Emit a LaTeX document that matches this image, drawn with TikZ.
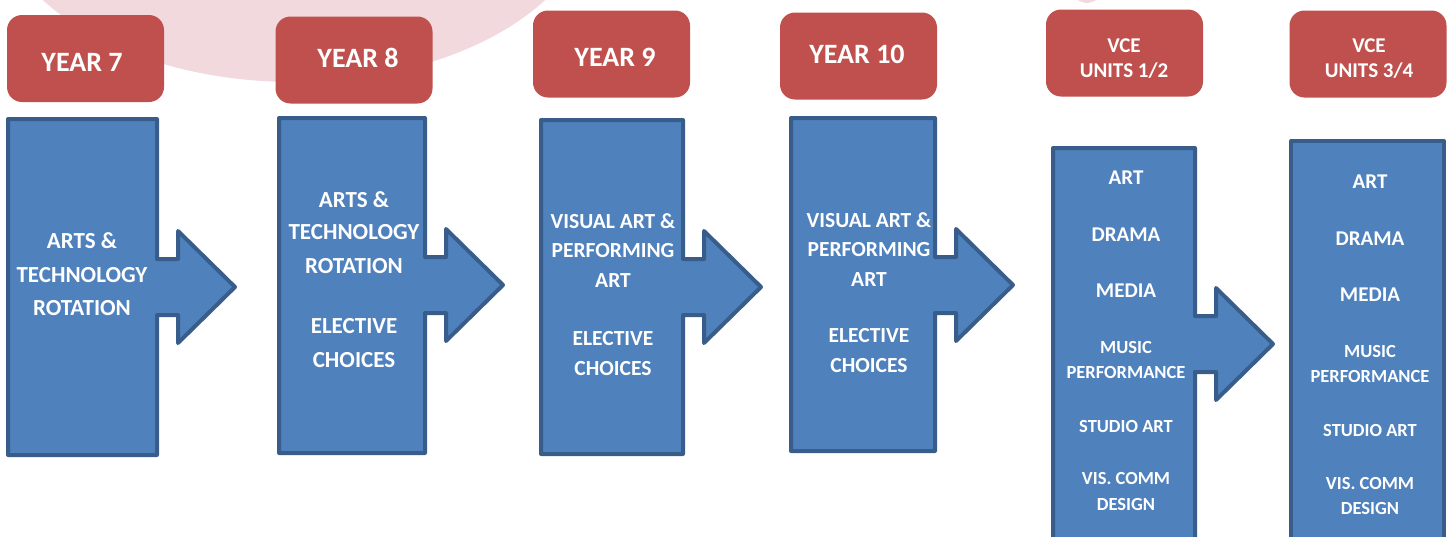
\documentclass[tikz,border=0pt]{standalone}
\usepackage{fontspec}
\setmainfont{Carlito}

\definecolor{yearred}{HTML}{C0504D}
\definecolor{stageblue}{HTML}{4F81BD}
\definecolor{stageedge}{HTML}{385D8A}
\definecolor{blush}{HTML}{F2D9DD}

% block with an arrow on its right side: left, top, right, bottom, arrow middle
\newcommand{\stagearrow}[5]{%
  \draw[stagebox] (#1,#2) -- (#3,#2) -- (#3,#5-28) -- (#3+21,#5-28) -- (#3+21,#5-56)
    -- (#3+78,#5) -- (#3+21,#5+56) -- (#3+21,#5+28) -- (#3,#5+28) -- (#3,#4) -- (#1,#4) -- cycle;}

\begin{document}
\begin{tikzpicture}[x=1pt,y=-1pt,
  yearbox/.style={fill=yearred,rounded corners=15pt,minimum width=157pt,minimum height=87pt,inner sep=0pt},
  headtext/.style={text=white,inner sep=0pt,font=\bfseries\fontsize{28}{34}\selectfont},
  vcetext/.style={headtext,align=center,font=\bfseries\fontsize{21}{25}\selectfont},
  stagebox/.style={fill=stageblue,draw=stageedge,line width=4pt,line join=round},
  subject/.style={text=white,anchor=base,inner sep=0pt,font=\bfseries\fontsize{23}{28}\selectfont},
  subjectmid/.style={subject,font=\bfseries\fontsize{21.5}{26}\selectfont},
  subjectvce/.style={subject,font=\bfseries\fontsize{21}{25}\selectfont},
  subjectsmall/.style={subject,font=\bfseries\fontsize{18.5}{22}\selectfont}]
  \useasboundingbox (0,0) rectangle (1453,536);
  \clip (0,0) rectangle (1453,536);

  % background
  \fill[blush] (294,-99) ellipse [x radius=300pt,y radius=181pt];
  \fill[blush] (1087,-60) ellipse [x radius=30pt,y radius=63pt];

  % headers
  \node[yearbox] (y7)  at (85.5,58.5) {};
  \node[yearbox] (y8)  at (354,60)    {};
  \node[yearbox] (y9)  at (611.5,54)  {};
  \node[yearbox] (y10) at (858.5,56)  {};
  \node[yearbox] (v12) at (1124.5,53) {};
  \node[yearbox] (v34) at (1368,54)   {};
  \node[headtext] (h7)  at (82,62.5)  {YEAR 7};
  \node[headtext] (h8)  at (358,57.5) {YEAR 8};
  \node[headtext] (h9)  at (615,57)   {YEAR 9};
  \node[headtext] (h10) at (857,54)   {YEAR 10};
  \node[vcetext]  (h12) at (1124,58.5) {VCE\\UNITS 1/2};
  \node[vcetext]  (h34) at (1369,59)   {VCE\\UNITS 3/4};

  % stages
  \stagearrow{8}{119}{157}{455}{287}
  \stagearrow{279}{118}{425}{453}{285}
  \stagearrow{541}{120}{683}{454}{287}
  \stagearrow{791}{118}{935}{451}{285}
  \stagearrow{1053}{148}{1195}{600}{344}
  \draw[stagebox] (1291,141) rectangle (1444,600);

  % stage texts
  \foreach \txt/\yy [count=\i] in {ARTS \&/248,TECHNOLOGY/282,ROTATION/315}
    \node[subject] (s7-\i) at (82,\yy) {\txt};
  \foreach \txt/\yy [count=\i] in {ARTS \&/207,TECHNOLOGY/239,ROTATION/273,ELECTIVE/333,CHOICES/367}
    \node[subject] (s8-\i) at (354,\yy) {\txt};
  \foreach \txt/\yy [count=\i] in {VISUAL ART \&/228,PERFORMING/257,ART/287,ELECTIVE/345,CHOICES/375}
    \node[subjectmid] (s9-\i) at (613,\yy) {\txt};
  \foreach \txt/\yy [count=\i] in {VISUAL ART \&/227,PERFORMING/256,ART/286,ELECTIVE/342,CHOICES/372}
    \node[subjectmid] (s10-\i) at (869,\yy) {\txt};

  % vce subjects
  \foreach \txt/\yy [count=\i] in {ART/184,DRAMA/241,MEDIA/297}
    \node[subjectvce] (u12-\i) at (1126,\yy) {\txt};
  \foreach \txt/\yy [count=\i] in {MUSIC/353,PERFORMANCE/378,STUDIO ART/432,VIS. COMM/484,DESIGN/510}
    \node[subjectsmall] (w12-\i) at (1126,\yy) {\txt};
  \foreach \txt/\yy [count=\i] in {ART/188,DRAMA/245,MEDIA/301}
    \node[subjectvce] (u34-\i) at (1370,\yy) {\txt};
  \foreach \txt/\yy [count=\i] in {MUSIC/357,PERFORMANCE/382,STUDIO ART/436,VIS. COMM/489,DESIGN/514}
    \node[subjectsmall] (w34-\i) at (1370,\yy) {\txt};
\end{tikzpicture}
\end{document}
